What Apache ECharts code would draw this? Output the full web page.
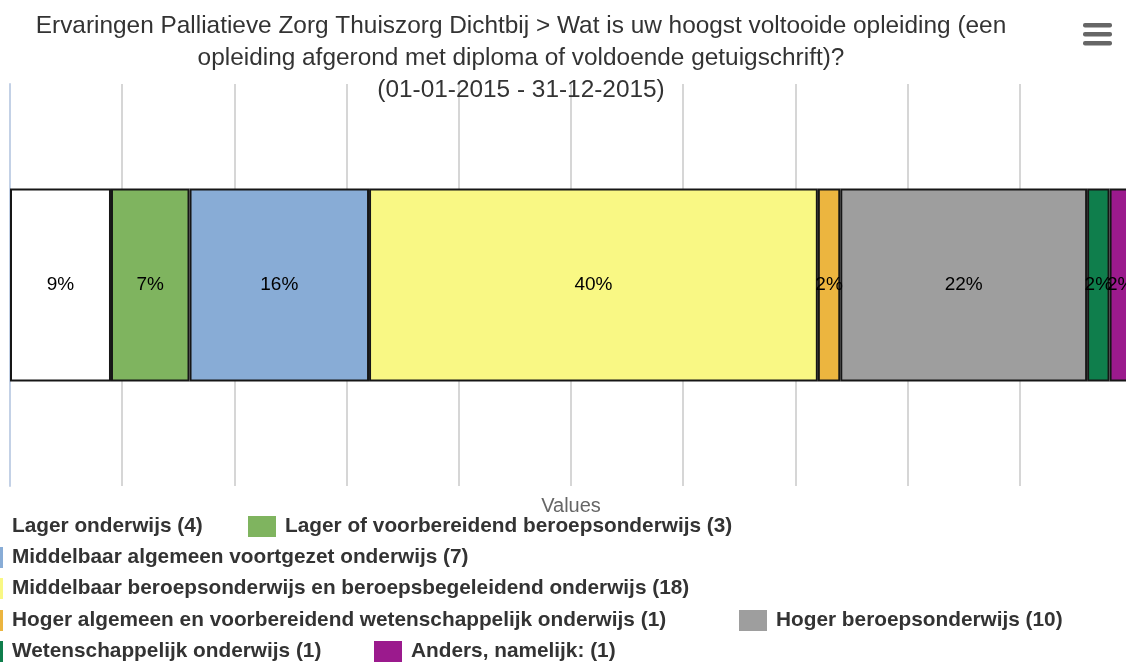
<!DOCTYPE html>
<html>
<head>
<meta charset="utf-8">
<title>Ervaringen Palliatieve Zorg Thuiszorg Dichtbij</title>
<script src="https://cdn.jsdelivr.net/npm/echarts@6/dist/echarts.min.js"></script>
<style>
  html, body { margin: 0; padding: 0; background: #ffffff; }
  #chart { width: 1126px; height: 663px; }
</style>
</head>
<body>
<div id="chart"></div>
<script>
// Answer groups, respondent counts and the rounded share of each group (%)
const categories = ['Opleiding'];
const groups = [
  'Lager onderwijs',
  'Lager of voorbereidend beroepsonderwijs',
  'Middelbaar algemeen voortgezet onderwijs',
  'Middelbaar beroepsonderwijs en beroepsbegeleidend onderwijs',
  'Hoger algemeen en voorbereidend wetenschappelijk onderwijs',
  'Hoger beroepsonderwijs',
  'Wetenschappelijk onderwijs',
  'Anders, namelijk:'
];
const counts = [4, 3, 7, 18, 1, 10, 1, 1];
const percentages = [9, 7, 16, 40, 2, 22, 2, 2];
const axisTicks = [0, 10, 20, 30, 40, 50, 60, 70, 80, 90, 100];

const colors = ['#ffffff', '#7fb45f', '#88acd6', '#f9f884', '#ecb53f', '#9e9e9e', '#0f7e4c', '#9b1a8d'];
const FONT = '"Liberation Sans", Arial, Helvetica, sans-serif';

const legendName = (i) => groups[i] + ' (' + counts[i] + ')';

// Legend entries: one box per entry, rows flowing like the original layout
const legendSpots = [
  { left: -25, top: 516 },
  { left: 248, top: 516 },
  { left: -25, top: 547 },
  { left: -25, top: 578 },
  { left: -25, top: 610 },
  { left: 739, top: 610 },
  { left: -25, top: 641 },
  { left: 374, top: 641 }
];

const chart = echarts.init(document.getElementById('chart'), null, { renderer: 'canvas' });

const series = groups.map((g, i) => ({
  name: legendName(i),
  type: 'bar',
  stack: 'total',
  barWidth: 193,
  data: [percentages[i]],
  itemStyle: {
    color: colors[i],
    borderColor: '#161616',
    borderWidth: 2
  },
  label: {
    show: true,
    position: 'inside',
    formatter: (p) => p.value + '%',
    fontFamily: FONT,
    fontSize: 19,
    color: '#000000',
    textBorderWidth: 0
  },
  emphasis: { disabled: true }
}));

const legends = legendSpots.map((spot, i) => ({
  left: spot.left,
  top: spot.top,
  orient: 'horizontal',
  padding: 0,
  itemWidth: 28,
  itemHeight: 21,
  icon: 'rect',
  data: [{ name: legendName(i), itemStyle: { borderWidth: 0 } }],
  textStyle: {
    fontFamily: FONT,
    fontSize: 20.8,
    fontWeight: 'bold',
    color: '#333333',
    padding: [4, 0, 0, 4]
  }
}));

chart.setOption({
  animation: false,
  backgroundColor: '#ffffff',
  title: {
    text: 'Ervaringen Palliatieve Zorg Thuiszorg Dichtbij > Wat is uw hoogst voltooide opleiding (een\n' +
          'opleiding afgerond met diploma of voldoende getuigschrift)?\n' +
          '(01-01-2015 - 31-12-2015)',
    left: 521,
    top: 10,
    textAlign: 'center',
    padding: 0,
    textStyle: {
      fontFamily: FONT,
      fontSize: 24.4,
      fontWeight: 'normal',
      color: '#333333',
      lineHeight: 32
    },
    z: 10
  },
  legend: legends,
  grid: {
    left: 10,
    right: -6,
    top: 84,
    bottom: 177,
    containLabel: false,
    outerBoundsMode: 'none'
  },
  xAxis: {
    type: 'value',
    min: axisTicks[0],
    max: axisTicks[axisTicks.length - 1],
    interval: axisTicks[1] - axisTicks[0],
    name: 'Values',
    nameLocation: 'middle',
    nameGap: 10,
    nameTextStyle: { fontFamily: FONT, fontSize: 20, color: '#666666' },
    axisLine: { show: false },
    axisTick: { show: false },
    axisLabel: { show: false },
    splitLine: { show: true, lineStyle: { color: '#c8c8c8', width: 1.5 } }
  },
  yAxis: {
    type: 'category',
    data: categories,
    axisLine: { show: true, lineStyle: { color: '#c3d1e6', width: 2 } },
    axisTick: { show: false },
    axisLabel: { show: false },
    splitLine: { show: false }
  },
  graphic: [{
    type: 'group',
    left: 1083,
    top: 23,
    children: [0, 1, 2].map((k) => ({
      type: 'rect',
      shape: { x: 0, y: k * 9, width: 29, height: 4.5, r: 2 },
      style: { fill: '#666666' }
    }))
  }],
  series: series
});
</script>
</body>
</html>
